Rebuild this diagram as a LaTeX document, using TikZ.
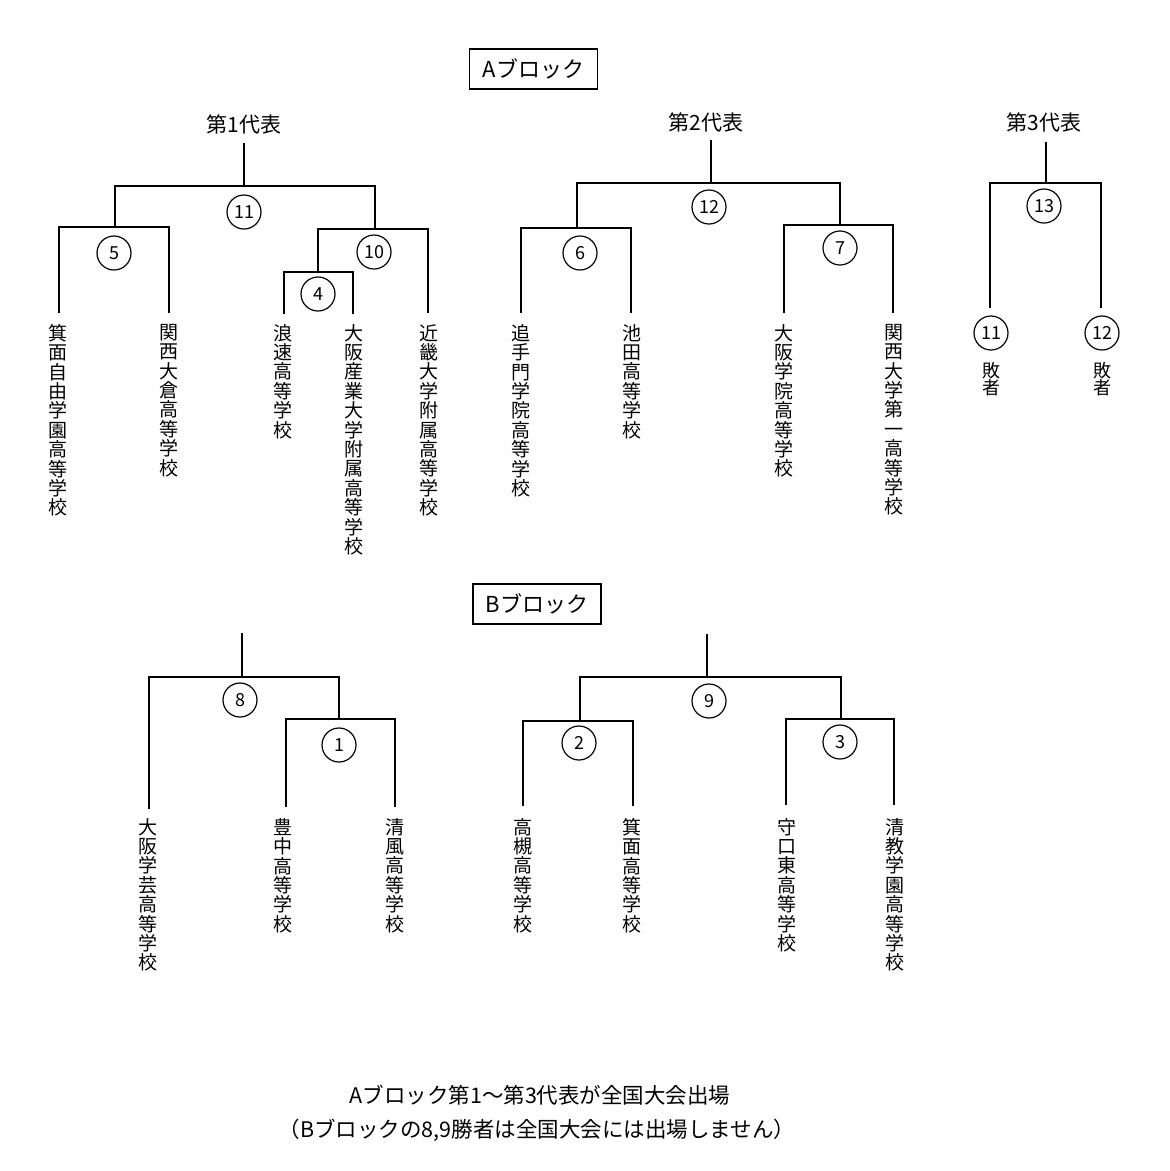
\documentclass[tikz,border=0pt]{standalone}
\usepackage{fontspec}
\setmainfont{Noto Sans CJK JP}
\begin{document}
\begin{tikzpicture}[x=1pt,y=-1pt,
  bk/.style={line width=2pt},
  circ/.style={circle,draw,line width=1.2pt,minimum size=34pt,inner sep=0pt,font=\fontsize{18}{18}\selectfont},
  school/.style={anchor=north,align=center,inner sep=0pt,font=\fontsize{19}{19.4}\selectfont},
  loser/.style={anchor=north,align=center,inner sep=0pt,font=\fontsize{18}{17.5}\selectfont},
  ttl/.style={inner sep=0pt,font=\fontsize{21}{21}\selectfont},
  blk/.style={draw,line width=1.5pt,minimum width=128pt,minimum height=40pt,inner sep=0pt,font=\fontsize{22}{22}\selectfont},
  note/.style={inner sep=0pt,font=\fontsize{21.5}{21.5}\selectfont}]
\fill[white] (0,0) rectangle (1170,1171);
\useasboundingbox (0,0) rectangle (1170,1171);

% ---------------- A block ----------------
\node[blk] (bA) at (533.5,69) {Aブロック};
\node[ttl] (t1) at (244,124) {第1代表};
\node[ttl] (t2) at (706,122) {第2代表};
\node[ttl] (t3) at (1044,122) {第3代表};

% representative 1
\coordinate (r1) at (244,143);
\coordinate (j11) at (244,186);
\coordinate (j5) at (115,227);
\coordinate (j10) at (375,229);
\coordinate (j4) at (318,272);
\coordinate (a1) at (59,313);
\coordinate (a2) at (169,313);
\coordinate (a3) at (284,314);
\coordinate (a4) at (353,314);
\coordinate (a5) at (428,313);
\draw[bk] (r1) -- (j11);
\draw[bk] (j5) |- (j11) -| (j10);
\draw[bk] (a1) |- (j5) -| (a2);
\draw[bk] (j4) |- (j10) -| (a5);
\draw[bk] (a3) |- (j4) -| (a4);
\node[circ] (c11) at (244,212) {11};
\node[circ] (c5) at (114,253) {5};
\node[circ] (c10) at (374,252) {10};
\node[circ] (c4) at (318,294) {4};
\node[school] (s1) at (58,324) {箕\\面\\自\\由\\学\\園\\高\\等\\学\\校};
\node[school] (s2) at (169,324) {関\\西\\大\\倉\\高\\等\\学\\校};
\node[school] (s3) at (283,324) {浪\\速\\高\\等\\学\\校};
\node[school] (s4) at (354,324) {大\\阪\\産\\業\\大\\学\\附\\属\\高\\等\\学\\校};
\node[school] (s5) at (429,324) {近\\畿\\大\\学\\附\\属\\高\\等\\学\\校};

% representative 2
\coordinate (r2) at (711,140);
\coordinate (j12) at (711,183);
\coordinate (j6) at (577,228);
\coordinate (j7) at (840,225);
\coordinate (b1) at (521,313);
\coordinate (b2) at (631,313);
\coordinate (b3) at (784,313);
\coordinate (b4) at (893,313);
\draw[bk] (r2) -- (j12);
\draw[bk] (j6) |- (j12) -| (j7);
\draw[bk] (b1) |- (j6) -| (b2);
\draw[bk] (b3) |- (j7) -| (b4);
\node[circ] (c12) at (709,207) {12};
\node[circ] (c6) at (580,253) {6};
\node[circ] (c7) at (840,248) {7};
\node[school] (s6) at (521,324) {追\\手\\門\\学\\院\\高\\等\\学\\校};
\node[school] (s7) at (632,324) {池\\田\\高\\等\\学\\校};
\node[school] (s8) at (784,324) {大\\阪\\学\\院\\高\\等\\学\\校};
\node[school] (s9) at (894,324) {関\\西\\大\\学\\第\\一\\高\\等\\学\\校};

% representative 3
\coordinate (r3) at (1046,142);
\coordinate (j13) at (1046,183);
\coordinate (f1) at (990,308);
\coordinate (f2) at (1101,308);
\draw[bk] (r3) -- (j13);
\draw[bk] (f1) |- (j13) -| (f2);
\node[circ] (c13) at (1044,206) {13};
\node[circ] (c11b) at (991,333) {11};
\node[circ] (c12b) at (1102,333) {12};
\node[loser] (l1) at (991,362) {敗\\者};
\node[loser] (l2) at (1102,362) {敗\\者};

% ---------------- B block ----------------
\node[blk] (bB) at (537,604) {Bブロック};

\coordinate (r4) at (242,633);
\coordinate (j8) at (242,677);
\coordinate (j1) at (339,719);
\coordinate (d1) at (149,809);
\coordinate (d2) at (286,807);
\coordinate (d3) at (395,807);
\draw[bk] (r4) -- (j8);
\draw[bk] (d1) |- (j8) -| (j1);
\draw[bk] (d2) |- (j1) -| (d3);
\node[circ] (c8) at (240,700) {8};
\node[circ] (c1) at (339,745) {1};
\node[school] (s10) at (148,818) {大\\阪\\学\\芸\\高\\等\\学\\校};
\node[school] (s11) at (283,818) {豊\\中\\高\\等\\学\\校};
\node[school] (s12) at (395,818) {清\\風\\高\\等\\学\\校};

\coordinate (r5) at (707,634);
\coordinate (j9) at (707,677);
\coordinate (j2) at (580,721);
\coordinate (j3) at (841,719);
\coordinate (e1) at (523,806);
\coordinate (e2) at (633,806);
\coordinate (e3) at (786,805);
\coordinate (e4) at (894,805);
\draw[bk] (r5) -- (j9);
\draw[bk] (j2) |- (j9) -| (j3);
\draw[bk] (e1) |- (j2) -| (e2);
\draw[bk] (e3) |- (j3) -| (e4);
\node[circ] (c9) at (709,701) {9};
\node[circ] (c2) at (579,743) {2};
\node[circ] (c3) at (840,742) {3};
\node[school] (s13) at (523,818) {高\\槻\\高\\等\\学\\校};
\node[school] (s14) at (632,818) {箕\\面\\高\\等\\学\\校};
\node[school] (s15) at (787,818) {守\\口\\東\\高\\等\\学\\校};
\node[school] (s16) at (895,818) {清\\教\\学\\園\\高\\等\\学\\校};

% ---------------- notes ----------------
\node[note] (n1) at (540,1095) {Aブロック第1〜第3代表が全国大会出場};
\node[note] (n2) at (537,1130) {（Bブロックの8,9勝者は全国大会には出場しません）};
\end{tikzpicture}
\end{document}
